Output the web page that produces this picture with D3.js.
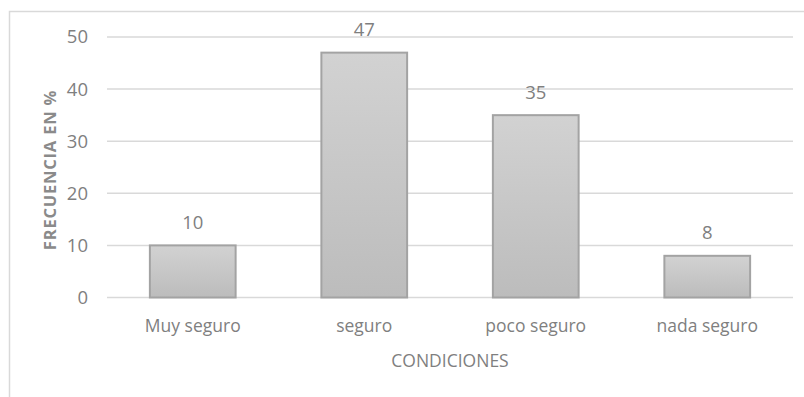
<!DOCTYPE html>
<html>
<head>
<meta charset="utf-8">
<script src="https://d3js.org/d3.v7.min.js"></script>
<style>
  html, body { margin: 0; padding: 0; background: #fff; }
  svg { display: block; font-family: "Open Sans", "Noto Sans", sans-serif; }
</style>
</head>
<body>
<svg id="chart" width="804" height="397"></svg>
<script>
// Survey results: perceived safety conditions (percentage of respondents)
const categories = ["Muy seguro", "seguro", "poco seguro", "nada seguro"];
const values = [10, 47, 35, 8];
const yTicks = [0, 10, 20, 30, 40, 50];
const xTitle = "CONDICIONES";
const yTitle = "FRECUENCIA EN %";

const svg = d3.select("#chart");
const W = 804, H = 397;
const margin = { left: 107, right: 11, top: 37, bottom: 99.5 };
const plotW = W - margin.left - margin.right;
const plotH = H - margin.top - margin.bottom;

const textColor = "#7f7f7f";

// outer chart frame
svg.append("rect")
  .attr("x", 9.5).attr("y", 11.5)
  .attr("width", W + 10).attr("height", H + 10)
  .attr("fill", "none").attr("stroke", "#d9d9d9").attr("stroke-width", 1.5);

// gradient used for the bars
const defs = svg.append("defs");
const grad = defs.append("linearGradient")
  .attr("id", "barFill").attr("x1", 0).attr("y1", 0).attr("x2", 0).attr("y2", 1);
grad.append("stop").attr("offset", "0%").attr("stop-color", "#d2d2d2");
grad.append("stop").attr("offset", "100%").attr("stop-color", "#bcbcbc");

const g = svg.append("g").attr("transform", `translate(${margin.left},${margin.top})`);

const x = d3.scaleBand().domain(categories).range([0, plotW]).paddingInner(0.5).paddingOuter(0.25);
const y = d3.scaleLinear().domain([0, 50]).range([plotH, 0]);

// horizontal gridlines
g.append("g").selectAll("line").data(yTicks).join("line")
  .attr("x1", 0).attr("x2", plotW)
  .attr("y1", d => y(d)).attr("y2", d => y(d))
  .attr("stroke", "#d9d9d9").attr("stroke-width", 1.5);

// y axis tick labels
const yAxis = d3.axisLeft(y).tickValues(yTicks).tickSize(0).tickPadding(19);
const yg = g.append("g").call(yAxis);
yg.select(".domain").remove();
yg.selectAll("text")
  .attr("fill", textColor).attr("font-size", 18.5)
  .attr("font-family", "'Open Sans', sans-serif");

// bars
g.append("g").selectAll("rect").data(values).join("rect")
  .attr("x", (d, i) => x(categories[i]))
  .attr("width", x.bandwidth())
  .attr("y", d => y(d))
  .attr("height", d => y(0) - y(d))
  .attr("fill", "url(#barFill)")
  .attr("stroke", "#a3a3a3").attr("stroke-width", 2);

// value labels
g.append("g").selectAll("text").data(values).join("text")
  .attr("x", (d, i) => x(categories[i]) + x.bandwidth() / 2)
  .attr("y", d => y(d) - 16.5)
  .attr("text-anchor", "middle")
  .attr("fill", textColor).attr("font-size", 18.5)
  .text(d => d);

// x axis category labels
const xAxis = d3.axisBottom(x).tickSize(0).tickPadding(22);
const xg = g.append("g").attr("transform", `translate(0,${plotH})`).call(xAxis);
xg.select(".domain").remove();
xg.selectAll("text")
  .attr("fill", textColor).attr("font-size", 17.5)
  .attr("font-family", "'Open Sans', sans-serif");

// axis titles
svg.append("text")
  .attr("x", margin.left + plotW / 2).attr("y", 367)
  .attr("text-anchor", "middle")
  .attr("fill", textColor).attr("font-size", 17.5)
  .text(xTitle);

svg.append("text")
  .attr("transform", "translate(56,170) rotate(-90)")
  .attr("text-anchor", "middle")
  .attr("fill", "#8a8a8a").attr("font-size", 16.5).attr("font-weight", "bold")
  .attr("letter-spacing", 0.8)
  .text(yTitle);
</script>
</body>
</html>
